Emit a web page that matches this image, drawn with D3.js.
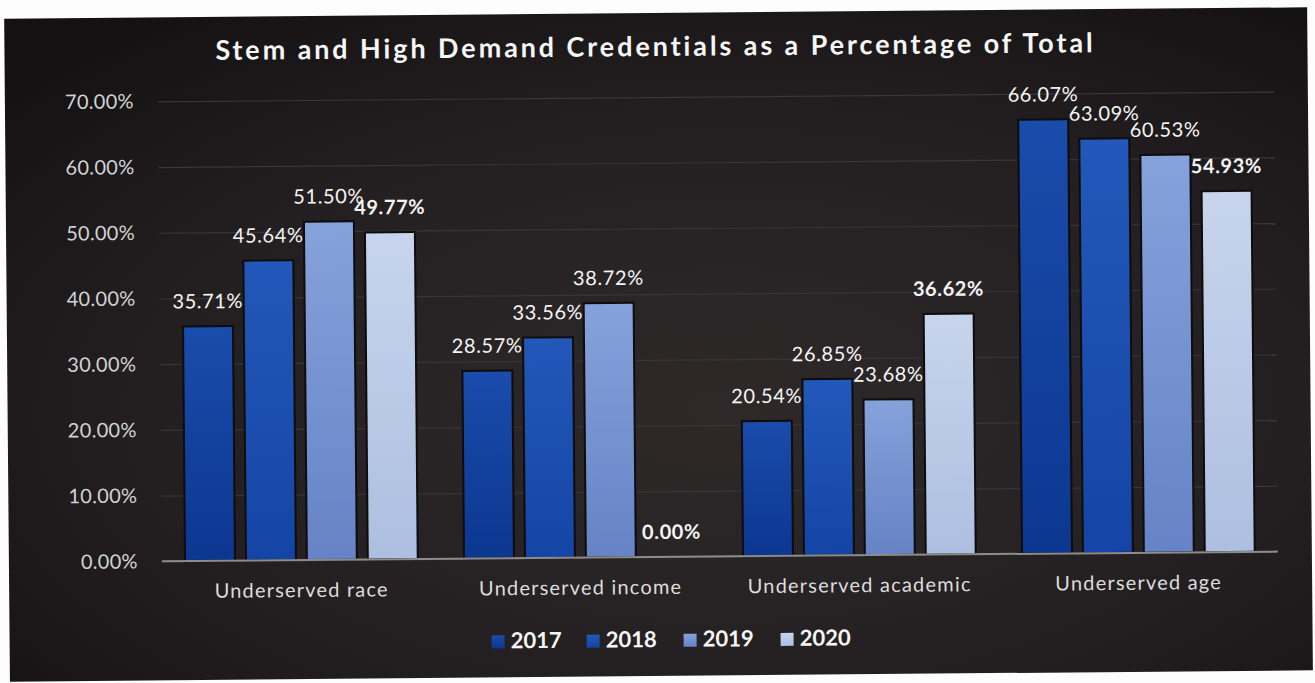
<!DOCTYPE html>
<html>
<head>
<meta charset="utf-8">
<script src="https://cdn.jsdelivr.net/npm/d3@7"></script>
<style>
  html, body { margin: 0; padding: 0; background: #ffffff; }
  svg { display: block; }
</style>
</head>
<body>
<svg id="chart" width="1315" height="683"></svg>
<script>
// Chart data
const categories = ["Underserved race", "Underserved income", "Underserved academic", "Underserved age"];
const years = ["2017", "2018", "2019", "2020"];
const values2017 = [35.71, 28.57, 20.54, 66.07];
const values2018 = [45.64, 33.56, 26.85, 63.09];
const values2019 = [51.50, 38.72, 23.68, 60.53];
const values2020 = [49.77, 0.00, 36.62, 54.93];
const yTicks = [0, 10, 20, 30, 40, 50, 60, 70];
const titleText = "Stem and High Demand Credentials as a Percentage of Total";

const seriesValues = [values2017, values2018, values2019, values2020];
const boldLabelYear = "2020";

// Colours per year: [top, bottom] of each bar's vertical gradient
const yearColors = {
  "2017": ["#1a4cab", "#0b3790"],
  "2018": ["#2258b9", "#1445a6"],
  "2019": ["#86a2db", "#6583c6"],
  "2020": ["#c7d4ec", "#adbfe0"]
};

const W = 1315, H = 683;
const FONT = "Lato, 'Open Sans', sans-serif";
const svg = d3.select("#chart");
const defs = svg.append("defs");

// Page behind the panel
svg.append("rect").attr("width", W).attr("height", H).attr("fill", "#fdfdfd");

// Whole panel is drawn slightly tilted
const root = svg.append("g").attr("transform", "rotate(-0.5, 657, 341)");

// Panel background
const bg = defs.append("radialGradient").attr("id", "panelBg")
  .attr("cx", "55%").attr("cy", "60%").attr("r", "75%");
bg.append("stop").attr("offset", "0%").attr("stop-color", "#2e2829");
bg.append("stop").attr("offset", "60%").attr("stop-color", "#231f20");
bg.append("stop").attr("offset", "100%").attr("stop-color", "#141112");

root.append("rect")
  .attr("x", 7).attr("y", 13).attr("width", 1303).attr("height", 663)
  .attr("fill", "url(#panelBg)");

// Bar gradients
years.forEach(y => {
  const g = defs.append("linearGradient").attr("id", "bar" + y)
    .attr("x1", 0).attr("y1", 0).attr("x2", 0).attr("y2", 1);
  g.append("stop").attr("offset", "0%").attr("stop-color", yearColors[y][0]);
  g.append("stop").attr("offset", "100%").attr("stop-color", yearColors[y][1]);
});

// Scales
const plot = { left: 160, right: 1276, top: 97, bottom: 557 };
const x0 = d3.scaleBand().domain(categories).range([plot.left, plot.right]).padding(0);
const x1 = d3.scaleBand().domain(years).range([0, x0.bandwidth()])
  .paddingInner(0.18).paddingOuter(0.38);
const y = d3.scaleLinear().domain([0, 70]).range([plot.bottom, plot.top]);

// Gridlines and y labels
const yAxis = d3.axisLeft(y).tickValues(yTicks)
  .tickSize(-(plot.right - plot.left))
  .tickFormat(d => d3.format(".2f")(d) + "%");

const yG = root.append("g")
  .attr("transform", `translate(${plot.left},0)`)
  .call(yAxis);
yG.select(".domain").remove();
yG.selectAll(".tick line")
  .attr("stroke", "#3a3536").attr("stroke-width", 1.2);
yG.selectAll(".tick text")
  .attr("x", -24)
  .attr("fill", "#d2d2d2")
  .style("font-family", FONT)
  .style("font-size", "20px")
  .style("letter-spacing", "0.3px");

// Bars
const rows = categories.map((c, i) => ({
  category: c,
  bars: years.map((yr, j) => ({ year: yr, value: seriesValues[j][i] }))
}));

const groups = root.append("g").selectAll("g")
  .data(rows).join("g")
  .attr("transform", d => `translate(${x0(d.category)},0)`);

groups.selectAll("rect")
  .data(d => d.bars).join("rect")
  .attr("x", d => x1(d.year))
  .attr("y", d => y(d.value))
  .attr("width", x1.bandwidth())
  .attr("height", d => y(0) - y(d.value))
  .attr("fill", d => `url(#bar${d.year})`)
  .attr("stroke", "#0e0c0d")
  .attr("stroke-width", d => d.value > 0 ? 2 : 0);

// Baseline
root.append("line")
  .attr("x1", plot.left).attr("x2", plot.right)
  .attr("y1", y(0)).attr("y2", y(0))
  .attr("stroke", "#8d8c8c").attr("stroke-width", 2);

// Value labels
groups.selectAll("text.value")
  .data(d => d.bars).join("text")
  .attr("class", "value")
  .attr("x", d => x1(d.year) + x1.bandwidth() / 2)
  .attr("y", d => y(d.value) - 18)
  .attr("text-anchor", "middle")
  .attr("fill", "#f4f4f4")
  .style("font-family", FONT)
  .style("font-size", "20px")
  .style("letter-spacing", "0.6px")
  .style("font-weight", d => d.year === boldLabelYear ? 700 : 400)
  .text(d => d3.format(".2f")(d.value) + "%");

// Category labels
const xAxis = d3.axisBottom(x0).tickSize(0).tickPadding(0);
const xG = root.append("g")
  .attr("transform", `translate(0,${plot.bottom})`)
  .call(xAxis);
xG.select(".domain").remove();
xG.selectAll(".tick text")
  .attr("y", 37)
  .attr("dy", 0)
  .attr("fill", "#dcdcdc")
  .style("font-family", FONT)
  .style("font-size", "20px")
  .style("letter-spacing", "1.2px");

// Title
root.append("text")
  .attr("x", 658).attr("y", 56)
  .attr("text-anchor", "middle")
  .attr("fill", "#f6f6f6")
  .style("font-family", FONT)
  .style("font-size", "27px")
  .style("font-weight", 700)
  .style("letter-spacing", "2.9px")
  .text(titleText);

// Legend
const legendX = [489, 584, 681, 778];
const legend = root.append("g").selectAll("g")
  .data(years).join("g")
  .attr("transform", (d, i) => `translate(${legendX[i]},634)`);
legend.append("rect")
  .attr("width", 13).attr("height", 13)
  .attr("fill", d => `url(#bar${d})`);
legend.append("text")
  .attr("x", 19).attr("y", 13)
  .attr("fill", "#f6f6f6")
  .style("font-family", FONT)
  .style("font-size", "22px")
  .style("font-weight", 700)
  .text(d => d);
</script>
</body>
</html>
